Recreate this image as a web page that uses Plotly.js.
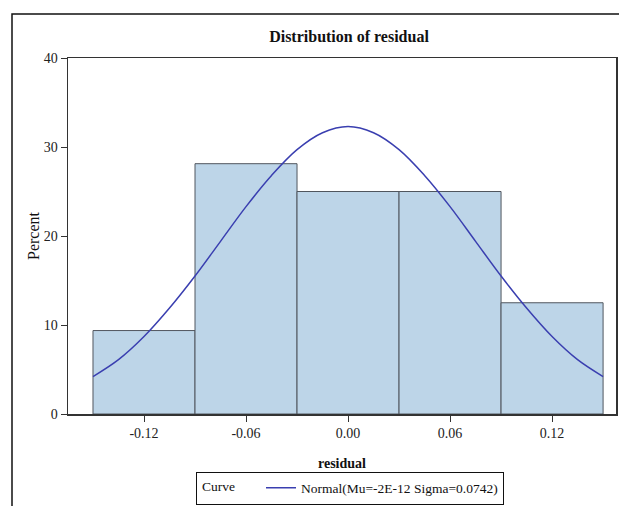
<!DOCTYPE html>
<html>
<head>
<meta charset="utf-8">
<script src="https://cdn.plot.ly/plotly-3.0.1.min.js"></script>
<style>html,body{margin:0;padding:0;background:#fff;}#chart{width:619px;height:506px;}</style>
</head>
<body>
<div id="chart"></div>
<script>
// Histogram bins (midpoints) and percent values
const binMid = [-0.12, -0.06, 0.00, 0.06, 0.12];
const binPercent = [9.375, 28.125, 25, 25, 12.5];
const binWidth = 0.06;

// Fitted normal curve points
const curveX = [-0.15, -0.135, -0.12, -0.105, -0.09, -0.075, -0.06, -0.045, -0.03, -0.015, 0.00,
                0.015, 0.03, 0.045, 0.06, 0.075, 0.09, 0.105, 0.12, 0.135, 0.15];
const curveY = [4.2, 6.1, 8.7, 11.9, 15.5, 19.4, 23.3, 26.8, 29.7, 31.6, 32.3,
                31.6, 29.7, 26.8, 23.3, 19.4, 15.5, 11.9, 8.7, 6.1, 4.2];
const curveName = 'Normal(Mu=-2E-12 Sigma=0.0742)';

const xTicks = [-0.12, -0.06, 0.00, 0.06, 0.12];
const xTickText = ['-0.12', '-0.06', '0.00', '0.06', '0.12'];
const yTicks = [0, 10, 20, 30, 40];

const serif = 'Liberation Serif, Times New Roman, serif';

const traces = [
  {
    type: 'bar', x: binMid, y: binPercent, width: binWidth,
    marker: {color: '#bdd5e8', line: {color: '#50565e', width: 1}},
    showlegend: false, hoverinfo: 'x+y'
  },
  {
    type: 'scatter', mode: 'lines', x: curveX, y: curveY, name: curveName,
    line: {color: '#3a3fb0', width: 1.5, shape: 'spline'}
  }
];

const L = 68, R = 3, T = 58, B = 91, W = 619, H = 506;
const pw = W - L - R, ph = H - T - B;
const legY = 488;

const layout = {
  width: W, height: H,
  margin: {l: L, r: R, t: T, b: B},
  paper_bgcolor: '#fff', plot_bgcolor: '#fff',
  font: {family: serif, size: 14, color: '#222'},
  title: {text: '<b>Distribution of residual</b>', font: {family: serif, size: 16, color: '#111'},
          x: (349 - L) / pw, xanchor: 'center', y: 1 - 36/H, yanchor: 'middle', xref: 'paper'},
  bargap: 0,
  xaxis: {
    range: [-0.1647, 0.1576], tickvals: xTicks, ticktext: xTickText,
    ticks: 'outside', ticklen: 6, tickcolor: '#333', showgrid: false, zeroline: false,
    showline: true, linecolor: '#333', linewidth: 1.5, mirror: true,
    tickfont: {family: serif, size: 14, color: '#222'},
    title: {text: '<b>residual</b>', font: {family: serif, size: 14, color: '#111'}, standoff: 18}
  },
  yaxis: {
    range: [0, 40], tickvals: yTicks,
    ticks: 'outside', ticklen: 6, tickcolor: '#333', showgrid: false, zeroline: false,
    showline: true, linecolor: '#333', linewidth: 1.5, mirror: true,
    tickfont: {family: serif, size: 14, color: '#222'},
    title: {text: 'Percent', font: {family: serif, size: 16, color: '#111'}, standoff: 0}
  },
  showlegend: true,
  legend: {
    orientation: 'h', x: (350 - L) / pw, xanchor: 'center', xref: 'paper',
    y: (H - B - legY) / ph, yanchor: 'middle',
    bordercolor: '#111', borderwidth: 1, bgcolor: 'rgba(0,0,0,0)',
    font: {family: serif, size: 13.5, color: '#111'},
    title: {text: '\u2003\u2003\u2003\u2003', side: 'left', font: {family: serif, size: 13.5, color: '#111'}}
  },
  annotations: [{
    text: 'Curve', xref: 'paper', yref: 'paper', showarrow: false,
    x: (200 - L) / pw, xanchor: 'left', y: (H - B - legY) / ph, yanchor: 'middle',
    font: {family: serif, size: 13.5, color: '#111'}
  }],
  shapes: [{
    type: 'path', xref: 'paper', yref: 'paper',
    path: 'M ' + ((12 - L) / pw) + ',' + (-(H - T - ph + 20) / ph) +
          ' L ' + ((12 - L) / pw) + ',' + ((H - B - 14) / ph) +
          ' L ' + ((W + 20 - L) / pw) + ',' + ((H - B - 14) / ph),
    line: {color: '#111', width: 1.5}
  }]
};

Plotly.newPlot('chart', traces, layout, {displayModeBar: false, staticPlot: true});
</script>
</body>
</html>
